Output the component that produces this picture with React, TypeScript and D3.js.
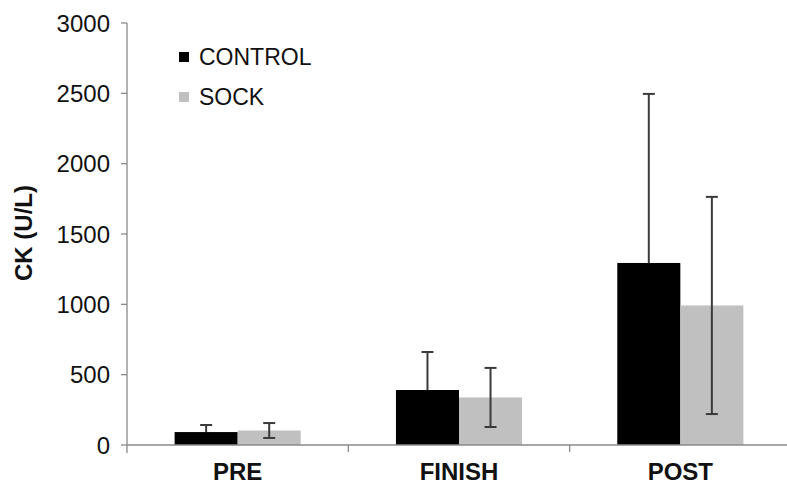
import * as d3 from 'd3'
import React from 'react'

const categories = ['PRE', 'FINISH', 'POST']
const series = ['CONTROL', 'SOCK']
const controlMean = [92, 391, 1294]
const controlSd = [50, 270, 1202]
const sockMean = [103, 338, 992]
const sockSd = [53, 210, 772]
const yTicks = [0, 500, 1000, 1500, 2000, 2500, 3000]
const colors = ['#000000', '#c0c0c0']

const W = 787
const H = 485
const FONT = '"Liberation Sans", Arial, sans-serif'

export default function App() {
  const ref = React.useRef<SVGSVGElement>(null)

  React.useEffect(() => {
    const svg = d3.select(ref.current)
    svg.selectAll('*').remove()

    const left = 127
    const y = d3.scaleLinear().domain([0, 3000]).range([445, 23])
    const x0 = d3.scaleBand().domain(categories).range([left, 791]).paddingInner(0).paddingOuter(0)
    const x1 = d3.scaleBand().domain(series).range([0, x0.bandwidth()]).paddingInner(0).paddingOuter(0.755)

    const data = series.map((s, si) => ({
      name: s,
      color: colors[si],
      values: categories.map((c, ci) => ({
        cat: c,
        mean: si === 0 ? controlMean[ci] : sockMean[ci],
        sd: si === 0 ? controlSd[ci] : sockSd[ci],
      })),
    }))

    // y axis
    const axisColor = '#8a8a8a'
    svg.append('line')
      .attr('x1', left).attr('x2', left)
      .attr('y1', y(3000)).attr('y2', 453)
      .attr('stroke', axisColor).attr('stroke-width', 1.3)
    const yt = svg.append('g')
    yt.selectAll('line').data(yTicks).enter().append('line')
      .attr('x1', left - 6).attr('x2', left)
      .attr('y1', d => y(d)).attr('y2', d => y(d))
      .attr('stroke', axisColor).attr('stroke-width', 1.3)
    yt.selectAll('text').data(yTicks).enter().append('text')
      .attr('x', 110).attr('y', d => y(d))
      .attr('dy', '0.36em')
      .attr('text-anchor', 'end')
      .attr('font-family', FONT).attr('font-size', 24)
      .attr('fill', '#111')
      .text(d => d)

    svg.append('text')
      .attr('transform', `translate(32,233) rotate(-90)`)
      .attr('text-anchor', 'middle')
      .attr('font-family', FONT).attr('font-weight', 'bold').attr('font-size', 24)
      .attr('fill', '#111')
      .text('CK (U/L)')

    // bars + error bars
    const drawErr = (d: any, si: number) => {
      const g = svg.append('g')
      d.values.forEach((v: any) => {
        const cx = (x0(v.cat) as number) + (x1(d.name) as number) + x1.bandwidth() / 2
        const lo = si === 0 ? v.mean : v.mean - v.sd
        g.append('line').attr('x1', cx).attr('x2', cx)
          .attr('y1', y(lo)).attr('y2', y(v.mean + v.sd))
          .attr('stroke', '#3a3a3a').attr('stroke-width', 2)
        const caps = si === 0 ? [v.mean + v.sd] : [v.mean + v.sd, v.mean - v.sd]
        caps.forEach(c => {
          g.append('line').attr('x1', cx - 6).attr('x2', cx + 6)
            .attr('y1', y(c)).attr('y2', y(c))
            .attr('stroke', '#3a3a3a').attr('stroke-width', 2)
        })
      })
    }

    data.forEach((d, si) => {
      if (si === 0) drawErr(d, si)
      svg.append('g').selectAll('rect').data(d.values).enter().append('rect')
        .attr('x', v => (x0(v.cat) as number) + (x1(d.name) as number))
        .attr('y', v => y(v.mean))
        .attr('width', x1.bandwidth())
        .attr('height', v => y(0) - y(v.mean))
        .attr('fill', d.color)
    })
    drawErr(data[1], 1)

    // x axis
    svg.append('line')
      .attr('x1', left).attr('x2', W)
      .attr('y1', y(0)).attr('y2', y(0))
      .attr('stroke', axisColor).attr('stroke-width', 1.3)
    svg.append('g').selectAll('line').data(categories.slice(1)).enter().append('line')
      .attr('x1', d => x0(d) as number).attr('x2', d => x0(d) as number)
      .attr('y1', y(0)).attr('y2', y(0) + 7)
      .attr('stroke', axisColor).attr('stroke-width', 1.3)
    svg.append('g').selectAll('text').data(categories).enter().append('text')
      .attr('x', d => (x0(d) as number) + x0.bandwidth() / 2)
      .attr('y', 480)
      .attr('text-anchor', 'middle')
      .attr('font-family', FONT).attr('font-weight', 'bold').attr('font-size', 24)
      .attr('fill', '#111')
      .text(d => d)

    // legend
    const lg = svg.append('g').attr('transform', 'translate(179,52)')
    series.forEach((s, i) => {
      lg.append('rect').attr('x', 0).attr('y', i * 40).attr('width', 10).attr('height', 10)
        .attr('fill', colors[i])
      lg.append('text').attr('x', 20).attr('y', i * 40 + 5).attr('dy', '0.36em')
        .attr('font-family', FONT).attr('font-size', 23).attr('fill', '#111')
        .text(s)
    })
  }, [])

  return (
    <svg ref={ref} width={W} height={H}
      style={{ position: 'absolute', left: 0, top: 0, background: '#fff' }} />
  )
}
